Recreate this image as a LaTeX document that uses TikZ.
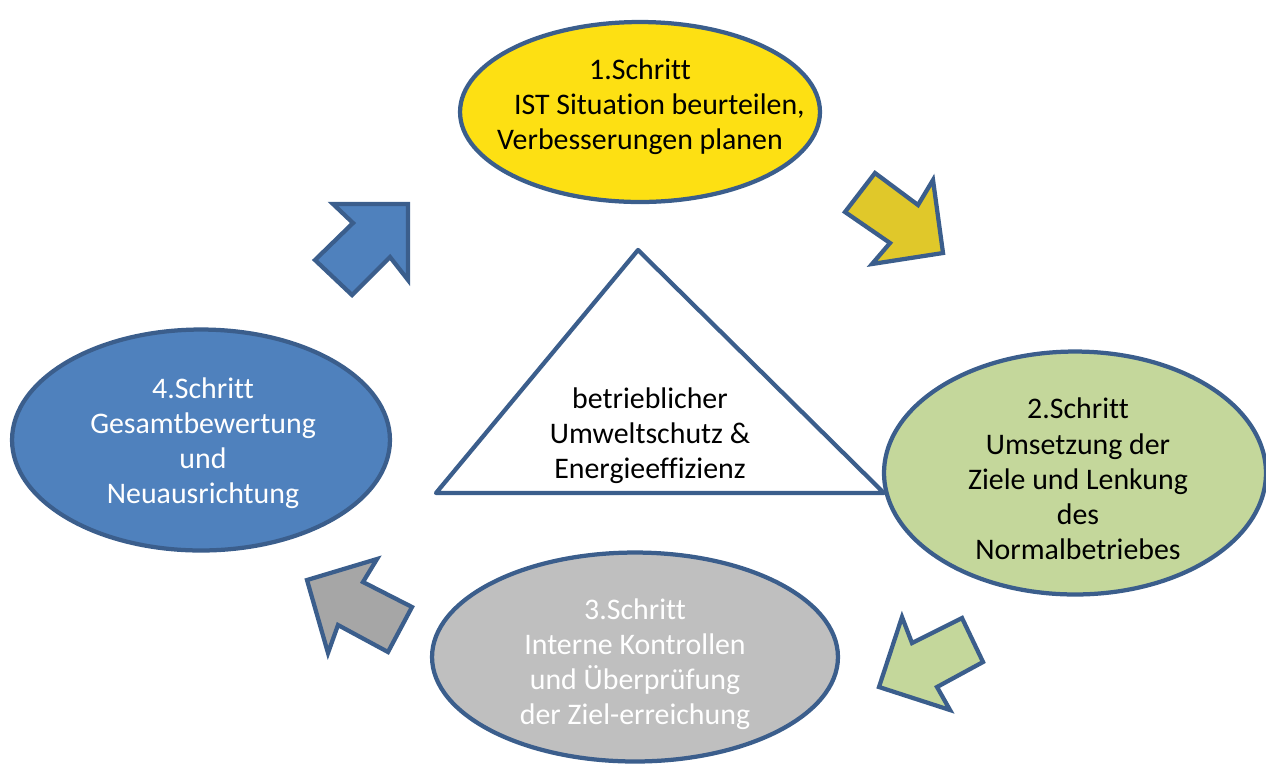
\documentclass[tikz,border=0pt]{standalone}
\usepackage{fontspec}
\setmainfont[Ligatures=NoCommon]{Carlito}
\usetikzlibrary{shapes.geometric, positioning}
\definecolor{edgeblue}{RGB}{59, 94, 140}
\definecolor{stepyellow}{RGB}{253, 224, 19}
\definecolor{arrowyellow}{RGB}{224, 200, 42}
\definecolor{stepgreen}{RGB}{196, 215, 155}
\definecolor{stepgray}{RGB}{191, 191, 191}
\definecolor{arrowgray}{RGB}{166, 166, 166}
\definecolor{stepblue}{RGB}{79, 129, 189}

\begin{document}
\begin{tikzpicture}[
    x=0.02cm, y=-0.02cm,
    stepnode/.style={ellipse, draw=edgeblue, line width=0.85mm, inner sep=0pt},
    steptext/.style={align=center, inner sep=0pt, font=\fontsize{17}{20}\selectfont},
    blockarrow/.style={draw=edgeblue, line width=0.85mm, line join=miter}
]
    \useasboundingbox (0,0) rectangle (1266,772);

    % Four steps
    \node[stepnode, fill=stepyellow, minimum width=7.2cm, minimum height=3.6cm] (s1) at (640, 112) {};
    \node[stepnode, fill=stepgreen, minimum width=7.64cm, minimum height=4.86cm] (s2) at (1075, 473) {};
    \node[stepnode, fill=stepgray, minimum width=8.12cm, minimum height=4.18cm] (s3) at (635, 657) {};
    \node[stepnode, fill=stepblue, minimum width=7.56cm, minimum height=4.42cm] (s4) at (201, 440) {};

    \node[steptext] (s1text) at (640, 107) {1.Schritt\hspace{2.8em}\\\hspace{1.3em}IST Situation beurteilen,\\Verbesserungen planen\hspace{2.2em}};
    \node[steptext] (s2text) at (1078, 479) {2.Schritt\\Umsetzung der\\Ziele und Lenkung\\des\\Normalbetriebes};
    \node[steptext, text=white] (s3text) at (635, 664) {3.Schritt\\Interne Kontrollen\\und Überprüfung\\der Ziel-erreichung};
    \node[steptext, text=white] (s4text) at (203, 443) {4.Schritt\\Gesamtbewertung\\und\\Neuausrichtung};

    % Triangle in the middle
    \draw[draw=edgeblue, fill=white, line width=0.85mm, line join=round] (638, 250) -- (884, 493) -- (436, 493) -- cycle;
    \node[steptext] (core) at (650, 436) {betrieblicher\\Umweltschutz \&\\Energieeffizienz};

    % Block arrows
    \draw[blockarrow, fill=arrowyellow] (875,173) -- (918,205) -- (933,180) -- (943,253) -- (872,264) -- (890,243) -- (845,212) -- cycle;
    \draw[blockarrow, fill=stepgreen] (902,617) -- (912,643) -- (962,618) -- (983,662) -- (937,687) -- (950,710) -- (879,687) -- cycle;
    \draw[blockarrow, fill=arrowgray] (307,580) -- (377,559) -- (363,582) -- (412,607) -- (388,652) -- (338,625) -- (328,653) -- cycle;
    \draw[blockarrow, fill=stepblue] (333,204) -- (408,204) -- (408,280) -- (390,257) -- (352,295) -- (315,260) -- (353,223) -- cycle;

\end{tikzpicture}
\end{document}
